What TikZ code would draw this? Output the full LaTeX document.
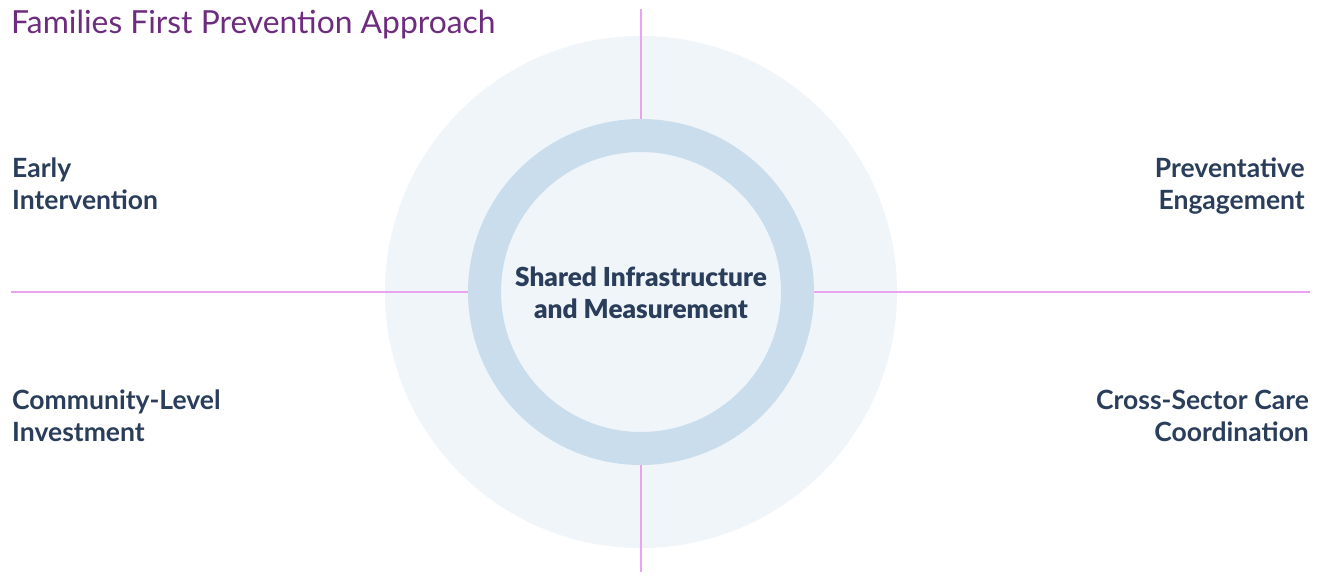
\documentclass[tikz,border=0pt]{standalone}
\usepackage{fontspec}
\setmainfont{Lato}
\newfontfamily\heavyfont{Lato Black}
\definecolor{bgpale}{HTML}{F0F5FA}
\definecolor{ringblue}{HTML}{CADDEC}
\definecolor{axisline}{HTML}{E9A3F1}
\definecolor{navy}{HTML}{2A3D5A}
\definecolor{titlepurple}{HTML}{6E2C7E}
\tikzset{
  lbl/.style={inner sep=0pt, text=navy, font=\fontsize{26.5}{32}\selectfont\bfseries},
  axis/.style={draw=axisline, line width=2pt},
}
\begin{document}
\begin{tikzpicture}[x=1pt,y=-1pt]
\useasboundingbox (0,0) rectangle (1322,573);
\fill[white] (0,0) rectangle (1322,573);
\node[circle, fill=bgpale, minimum size=512pt, inner sep=0pt] (outer) at (641,292) {};
\coordinate (top) at (641,9);
\coordinate (bottom) at (641,572);
\coordinate (left) at (11,292);
\coordinate (right) at (1310,292);
\draw[axis] (top) -- (bottom);
\draw[axis] (left) -- (right);
\node[circle, draw=ringblue, line width=33pt, fill=bgpale, minimum size=313pt, inner sep=0pt] (ring) at (641,292) {};
\node[inner sep=0pt, text=navy, align=center, font=\fontsize{26.2}{32}\selectfont\heavyfont, anchor=base] (core) at (641,318) {Shared Infrastructure\\and Measurement};
\node[inner sep=0pt, text=titlepurple, font=\fontsize{31.8}{36}\selectfont, anchor=base west] (title) at (11,33) {Families First Prevention Approach};
\node[lbl, align=left, anchor=base west] (early) at (12,209) {Early\\Intervention};
\node[lbl, align=left, anchor=base west] (community) at (12,441) {Community-Level\\Investment};
\node[lbl, align=right, anchor=base east] (prevent) at (1305,209) {Preventative\\Engagement};
\node[lbl, align=right, anchor=base east] (cross) at (1309,441) {Cross-Sector Care\\Coordination};
\end{tikzpicture}
\end{document}
